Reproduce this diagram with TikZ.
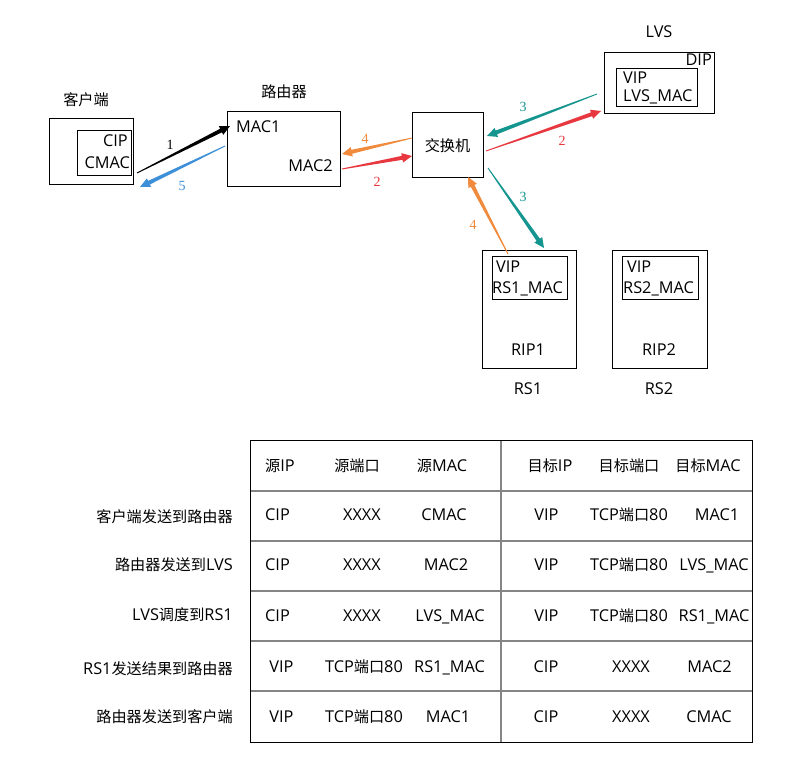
\documentclass[tikz,border=0pt]{standalone}
\usepackage{fontspec}
\setmainfont{Open Sans}
\newfontfamily\cjk[Scale=0.93]{Noto Sans CJK SC}
\newfontfamily\numfont{Liberation Serif}
\usetikzlibrary{calc}

\definecolor{flowteal}{HTML}{15958F}
\definecolor{flowred}{HTML}{E8383F}
\definecolor{floworange}{HTML}{F08A3C}
\definecolor{flowblue}{HTML}{3D8FD8}
\definecolor{gridgray}{HTML}{858585}

% tapered arrow: colour, start coordinate, end coordinate
\newcommand\taperarrow[3]{%
  \path (#2) coordinate (ta) (#3) coordinate (tb);
  \coordinate (th) at ($(tb)!10bp!(ta)$);
  \fill[#1] ($(ta)!0.45bp!90:(tb)$) -- ($(th)!2bp!90:(tb)$)
    -- ($(th)!4.8bp!90:(tb)$) -- (tb) -- ($(th)!4.8bp!-90:(tb)$)
    -- ($(th)!2bp!-90:(tb)$) -- ($(ta)!0.45bp!-90:(tb)$) -- cycle;
}

\tikzset{
  box/.style={draw, line width=0.9bp, inner sep=0pt},
  txt/.style={inner sep=0pt, font=\fontsize{16.3bp}{19bp}\selectfont,
              text height=11.6bp, text depth=0pt},
  num/.style={inner sep=0pt, font=\numfont\fontsize{14bp}{16bp}\selectfont,
              text height=9.4bp, text depth=0pt},
  gridline/.style={gridgray, line width=1.6bp},
}

\begin{document}
\begin{tikzpicture}[x=1bp, y=-1bp]
\useasboundingbox (0,0) rectangle (801,765);

% ---- client ----
\node[txt] (clientlbl) at (86,100) {{\cjk 客户端}};
\node[box, minimum width=84bp, minimum height=66bp] (client) at (91,151) {};
\node[box, minimum width=54bp, minimum height=45bp] (clientin) at (104,152.5) {};
\node[txt, anchor=east] (cip) at (128,141) {CIP};
\node[txt, anchor=east] (cmac) at (130,163) {CMAC};

% ---- router ----
\node[txt] (routerlbl) at (284,92) {{\cjk 路由器}};
\node[box, minimum width=113bp, minimum height=75bp] (router) at (283.5,148.5) {};
\node[txt, anchor=west] (mac1) at (236,127) {MAC1};
\node[txt, anchor=east] (mac2) at (333,166) {MAC2};

% ---- switch ----
\node[box, minimum width=71bp, minimum height=65bp] (switch) at (447.5,144.5) {};
\node[txt] (switchlbl) at (447.5,146) {{\cjk 交换机}};

% ---- LVS ----
\node[txt] (lvslbl) at (659,32) {LVS};
\node[box, minimum width=110bp, minimum height=61bp] (lvs) at (659,82.5) {};
\node[txt, anchor=east] (dip) at (712,60) {DIP};
\node[box, minimum width=81bp, minimum height=38bp] (lvsin) at (656.5,87) {};
\node[txt, anchor=west] (lvsvip) at (623,78) {VIP};
\node[txt, anchor=west] (lvsmac) at (623,96) {LVS\_MAC};

% ---- real servers ----
\node[box, minimum width=94bp, minimum height=118bp] (rs1) at (529,309) {};
\node[box, minimum width=75bp, minimum height=43bp] (rs1in) at (529.5,277.5) {};
\node[txt, anchor=west] (rs1vip) at (496,267) {VIP};
\node[txt, anchor=west] (rs1mac) at (492,288) {RS1\_MAC};
\node[txt] (rip1) at (528,350) {RIP1};
\node[txt] (rs1lbl) at (528,389) {RS1};

\node[box, minimum width=95bp, minimum height=118bp] (rs2) at (659.5,309) {};
\node[box, minimum width=76bp, minimum height=43bp] (rs2in) at (660,277.5) {};
\node[txt, anchor=west] (rs2vip) at (627,267) {VIP};
\node[txt, anchor=west] (rs2mac) at (623,288) {RS2\_MAC};
\node[txt] (rip2) at (659,350) {RIP2};
\node[txt] (rs2lbl) at (659,389) {RS2};

% ---- connector end points ----
\coordinate (c1s) at (137,173);  \coordinate (c1e) at (230,126);
\coordinate (c5s) at (225,146);  \coordinate (c5e) at (140,187);
\coordinate (o1s) at (412,138);  \coordinate (o1e) at (342,154);
\coordinate (r1s) at (342,169);  \coordinate (r1e) at (412,156);
\coordinate (t1s) at (597,94);   \coordinate (t1e) at (487,136);
\coordinate (r2s) at (486,151);  \coordinate (r2e) at (601,111);
\coordinate (t2s) at (488,168);  \coordinate (t2e) at (544,248);
\coordinate (o2s) at (508,254);  \coordinate (o2e) at (468,177);

\taperarrow{black}{c1s}{c1e}
\taperarrow{flowblue}{c5s}{c5e}
\taperarrow{floworange}{o1s}{o1e}
\taperarrow{flowred}{r1s}{r1e}
\taperarrow{flowteal}{t1s}{t1e}
\taperarrow{flowred}{r2s}{r2e}
\taperarrow{flowteal}{t2s}{t2e}
\taperarrow{floworange}{o2s}{o2e}

\node[num] (n1) at (170,145) {1};
\node[num, text=flowblue] (n5) at (182,186) {5};
\node[num, text=floworange] (n4a) at (365,139) {4};
\node[num, text=flowred] (n2a) at (377,182) {2};
\node[num, text=flowteal] (n3a) at (523,107) {3};
\node[num, text=flowred] (n2b) at (562,141) {2};
\node[num, text=flowteal] (n3b) at (523,197) {3};
\node[num, text=floworange] (n4b) at (473,225) {4};

% ---- table ----
\foreach \yy in {491,541,591,641,691}
  \draw[gridline] (250,\yy) -- (752,\yy);
\draw[gridline] (501,440) -- (501,742);
\draw[line width=0.9bp] (250,440) rectangle (752,742);

\foreach \xx/\yy/\tt in {
  280/466/{{\cjk 源}IP}, 357/466/{{\cjk 源端口}}, 442/466/{{\cjk 源}MAC},
  550/466/{{\cjk 目标}IP}, 629/466/{{\cjk 目标端口}}, 708/466/{{\cjk 目标}MAC},
  277.5/515/CIP, 362/515/XXXX, 444/515/CMAC,
  546.5/515/VIP, 629/515/{TCP{\cjk 端口}80}, 717/515/MAC1,
  277.5/565/CIP, 362/565/XXXX, 446/565/MAC2,
  546.5/565/VIP, 629/565/{TCP{\cjk 端口}80}, 714/565/{LVS\_MAC},
  277.5/616/CIP, 362/616/XXXX, 450/616/{LVS\_MAC},
  546.5/616/VIP, 629/616/{TCP{\cjk 端口}80}, 714/616/{RS1\_MAC},
  281.5/667/VIP, 364/667/{TCP{\cjk 端口}80}, 449.5/667/{RS1\_MAC},
  546/667/CIP, 631/667/XXXX, 709.5/667/MAC2,
  281.5/717/VIP, 364/717/{TCP{\cjk 端口}80}, 448/717/MAC1,
  546/717/CIP, 631/717/XXXX, 709/717/CMAC}
  \node[txt] at (\xx,\yy) {\tt};

\node[txt, anchor=east] (row1) at (233,517) {{\cjk 客户端发送到路由器}};
\node[txt, anchor=east] (row2) at (233,565) {{\cjk 路由器发送到}LVS};
\node[txt, anchor=east] (row3) at (233,615) {LVS{\cjk 调度到}RS1};
\node[txt, anchor=east] (row4) at (233,669) {RS1{\cjk 发送结果到路由器}};
\node[txt, anchor=east] (row5) at (233,717) {{\cjk 路由器发送到客户端}};
\end{tikzpicture}
\end{document}
